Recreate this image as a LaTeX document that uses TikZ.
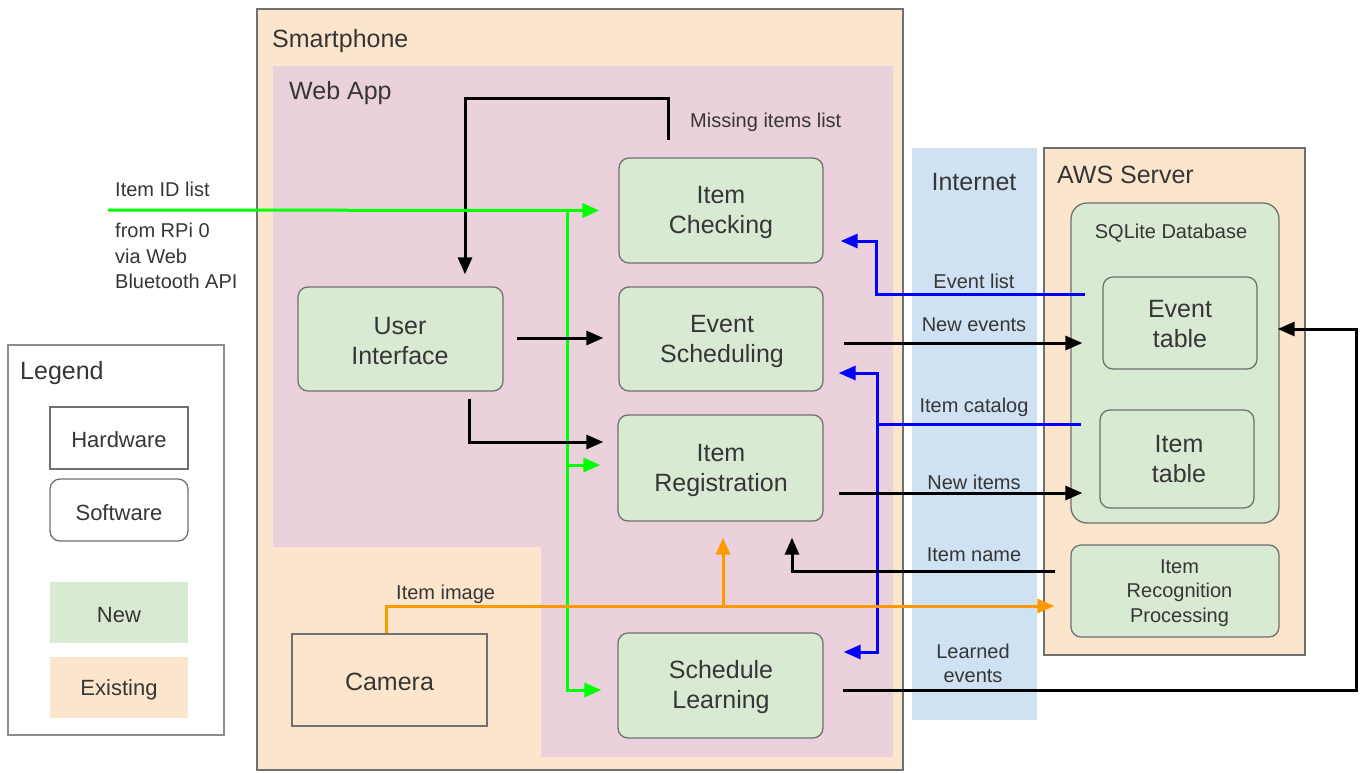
\documentclass[tikz,border=0pt]{standalone}
\usepackage{fontspec}
\setmainfont{Liberation Sans}
\usetikzlibrary{arrows.meta,calc}
\definecolor{peach}{HTML}{FCE5CD}
\definecolor{pinkbg}{HTML}{EAD1DC}
\definecolor{greenbg}{HTML}{D9EAD3}
\definecolor{bluebg}{HTML}{CFE2F3}
\definecolor{txt}{HTML}{363636}
\definecolor{bord}{HTML}{707070}
\definecolor{lgreen}{HTML}{00FF00}
\definecolor{lblue}{HTML}{0000FF}
\definecolor{lorange}{HTML}{FF9900}
\begin{document}
\begin{tikzpicture}[x=1pt,y=-1pt,
  bigtext/.style={font=\fontsize{25}{30}\selectfont, text=txt},
  lbl/.style={font=\fontsize{20}{25}\selectfont, text=txt, inner sep=0pt},
  legtext/.style={font=\fontsize{22}{26}\selectfont, text=txt},
  soft/.style={draw=bord, fill=greenbg, rounded corners=10pt, line width=1.3pt, align=center, bigtext, inner sep=0pt},
  container/.style={draw=bord, fill=peach, line width=1.3pt, inner sep=0pt},
  conn/.style={line width=3pt, -{Triangle[length=17pt,width=14pt]}},
  gconn/.style={conn, line width=3pt, draw=lgreen},
  bconn/.style={conn, line width=3pt, draw=lblue},
  oconn/.style={conn, line width=3pt, draw=lorange},
  ]
\useasboundingbox (0,0) rectangle (1360,772);
% containers
\node[container, minimum width=646, minimum height=761] (phone) at (580,389.5) {};
\node[bigtext, anchor=west, inner sep=0pt] (phonelbl) at (272,41) {Smartphone};
\fill[pinkbg] (273,66) -- (893,66) -- (893,757) -- (541,757) -- (541,547) -- (273,547) -- cycle;
\node[bigtext, anchor=west, inner sep=0pt] (weblbl) at (289,93) {Web App};
\node[fill=bluebg, minimum width=125, minimum height=572, inner sep=0pt] (inet) at (974.5,434) {};
\node[bigtext, inner sep=0pt] (inetlbl) at (974,182) {Internet};
\node[container, minimum width=261, minimum height=507] (aws) at (1174.5,401.5) {};
\node[bigtext, anchor=west, inner sep=0pt] (awslbl) at (1057,175) {AWS Server};
\node[draw=bord, fill=greenbg, rounded corners=16pt, line width=1.3pt, minimum width=208, minimum height=320, inner sep=0pt] (db) at (1175,363) {};
\node[lbl] (dblbl) at (1171,233) {SQLite Database};
% software nodes
\node[soft, minimum width=154, minimum height=92] (evt) at (1180,323) {};
\node[bigtext, align=center] (evttxt) at (1180,324) {Event\\table};
\node[soft, minimum width=154, minimum height=98] (itm) at (1177,459) {};
\node[bigtext, align=center] (itmtxt) at (1179,459) {Item\\table};
\node[soft, minimum width=208, minimum height=92] (irp) at (1175,591) {};
\node[align=center, text=txt, font=\fontsize{20}{24.5}\selectfont] (irptxt) at (1179.5,593) {Item\\Recognition\\Processing};
\node[soft, minimum width=204, minimum height=105] (check) at (721,210.5) {};
\node[bigtext, align=center] (checktxt) at (721,212) {Item\\Checking};
\node[soft, minimum width=204, minimum height=104] (sched) at (721,339) {};
\node[bigtext, align=center] (schedtxt) at (722,341) {Event\\Scheduling};
\node[soft, minimum width=205, minimum height=106] (reg) at (720.5,468) {};
\node[bigtext, align=center] (regtxt) at (721,470) {Item\\Registration};
\node[soft, minimum width=205, minimum height=105] (learn) at (720.5,685.5) {};
\node[bigtext, align=center] (learntxt) at (721,687) {Schedule\\Learning};
\node[soft, minimum width=205, minimum height=104] (ui) at (400.5,339) {};
\node[bigtext, align=center] (uitxt) at (400,341) {User\\Interface};
\node[draw=bord, line width=1.3pt, minimum width=195, minimum height=92, bigtext, inner sep=0pt] (cam) at (389.5,680) {};
\node[bigtext] (camtxt) at (389.5,682) {Camera};
% legend
\node[draw=bord!80, line width=1.3pt, minimum width=216, minimum height=390, inner sep=0pt] (legend) at (116,540) {};
\node[bigtext, anchor=west, inner sep=0pt] (leglbl) at (20,373) {Legend};
\node[draw=bord, fill=white, line width=1.3pt, minimum width=138, minimum height=62, legtext, inner sep=0pt] (hw) at (119,438) {};
\node[legtext] (hwtxt) at (119,440) {Hardware};
\node[draw=bord, fill=white, rounded corners=10pt, line width=1.3pt, minimum width=138, minimum height=62, legtext, inner sep=0pt] (sw) at (119,510) {};
\node[legtext] (swtxt) at (119,513) {Software};
\node[fill=greenbg, minimum width=138, minimum height=61, inner sep=0pt] (new) at (119,612.5) {};
\node[legtext] (newtxt) at (119,615) {New};
\node[fill=peach, minimum width=138, minimum height=61, inner sep=0pt] (exist) at (119,687.5) {};
\node[legtext] (existtxt) at (119,690) {Existing};
% connectors
\draw[conn] ($(check.north)+(-53,-17)$) -- ++(0,-42) -| ($(ui.north)+(64.5,-12)$);
\node[lbl, anchor=west] (misslbl) at (690,122) {Missing items list};

\coordinate (gsrc) at (108,210);
\coordinate (gbr) at (567,210);
\draw[gconn] (gsrc) -- ($(check.west)+(-19,0)$);
\draw[gconn] (gbr) |- ($(reg.west)+(-17,-3)$);
\draw[gconn] (gbr) |- ($(learn.west)+(-16,4.5)$);
\node[lbl, anchor=west] (idlbl) at (115,189) {Item ID list};
\node[lbl, anchor=north west, align=left, font=\fontsize{20}{25.5}\selectfont] (rpilbl) at (115,223) {from RPi 0\\via Web\\Bluetooth API};

\draw[bconn] ($(evt.west)+(-17,-29)$) -- ++(-209,0) |- ($(check.east)+(17,30.5)$);
\node[lbl] (evlistlbl) at (974,281) {Event list};

\draw[conn] ($(sched.east)+(20,4)$) -- ($(sched.east -| evt.west)+(-20,4)$);
\node[lbl] (neweventslbl) at (974,325) {New events};

\coordinate (bj) at (877,424);
\draw[bconn] ($(itm.west)+(-18,-35)$) -- (bj) |- ($(sched.east)+(15,34)$);
\draw[bconn] (bj) |- ($(learn.east)+(20,-33.5)$);
\node[lbl] (catlbl) at (974,407) {Item catalog};

\draw[conn] ($(reg.east)+(15,25)$) -- ($(reg.east -| itm.west)+(-17,25)$);
\node[lbl] (newitemslbl) at (974,482) {New items};

\draw[conn] ($(irp.west)+(-15,-20)$) -| ($(reg.south)+(71.5,16)$);
\node[lbl] (namelbl) at (974,555) {Item name};

\coordinate (oj) at (723,606);
\draw[oconn] ($(cam.north)+(-3.5,0)$) |- ($(irp.west)+(-16,15)$);
\draw[oconn] (oj) -- ($(reg.south)+(2.5,16)$);
\node[lbl, anchor=west] (imglbl) at (396,594) {Item image};

\draw[conn] ($(learn.east)+(19,4.5)$) -- ++(514,0) |- ($(evt.east)+(20,6)$);
\node[lbl, align=center, font=\fontsize{20}{24}\selectfont] (learnedlbl) at (973,663) {Learned\\events};

\draw[conn] ($(ui.east)+(13,-1)$) -- ($(sched.west)+(-15,-1)$);
\draw[conn] ($(ui.south)+(69,7)$) |- ($(reg.west)+(-14,-26)$);
\end{tikzpicture}
\end{document}
